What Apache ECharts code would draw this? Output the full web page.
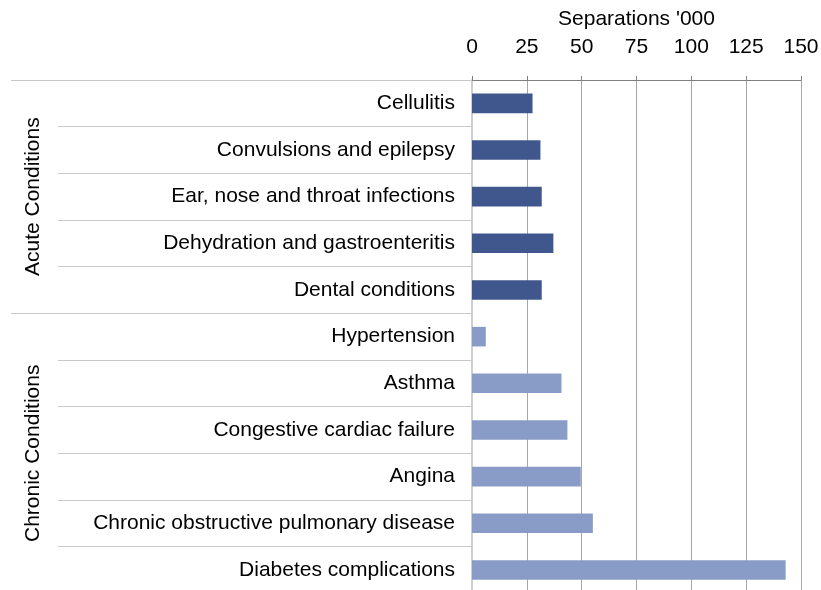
<!DOCTYPE html>
<html>
<head>
<meta charset="utf-8">
<script src="https://cdn.jsdelivr.net/npm/echarts@6/dist/echarts.min.js"></script>
<style>
  html, body { margin: 0; padding: 0; background: #fff; }
  #chart { width: 821px; height: 590px; }
</style>
</head>
<body>
<div id="chart"></div>
<script>
var categories = ['Cellulitis', 'Convulsions and epilepsy', 'Ear, nose and throat infections',
  'Dehydration and gastroenteritis', 'Dental conditions', 'Hypertension', 'Asthma',
  'Congestive cardiac failure', 'Angina', 'Chronic obstructive pulmonary disease',
  'Diabetes complications'];
var separations = [27.6, 31.2, 31.8, 37.1, 31.8, 6.3, 40.8, 43.5, 49.6, 55.1, 143];
var groups = ['Acute Conditions', 'Chronic Conditions'];
var groupSizes = [5, 6];
var groupColors = ['#40578E', '#889CC7'];
var xTicks = [0, 150, 25];

var font = 'Liberation Sans, Arial, sans-serif';
var fs = 21;

var barData = [];
var idx = 0;
groupSizes.forEach(function (n, g) {
  for (var i = 0; i < n; i++) {
    barData.push({ value: separations[idx], itemStyle: { color: groupColors[g] } });
    idx++;
  }
});

var gridTop = 80, gridBottom = -3.3, chartH = 590;
var chart = echarts.init(document.getElementById('chart'));
chart.setOption({
  animation: false,
  grid: { left: 472, right: 20, top: gridTop, bottom: gridBottom, outerBoundsMode: 'none' },
  xAxis: {
    type: 'value',
    position: 'top',
    min: xTicks[0], max: xTicks[1], interval: xTicks[2],
    name: "Separations '000",
    nameLocation: 'middle',
    nameGap: 50,
    nameTextStyle: { fontFamily: font, fontSize: fs, color: '#000' },
    axisLine: { show: true, lineStyle: { color: '#7f7f7f', width: 1 } },
    axisTick: { show: true, inside: false, length: 4, lineStyle: { color: '#7f7f7f' } },
    axisLabel: { margin: 22, fontFamily: font, fontSize: fs, color: '#000' },
    splitLine: { show: true, lineStyle: { color: '#a6a6a6', width: 1 } }
  },
  yAxis: {
    type: 'category',
    inverse: true,
    data: categories,
    axisLine: { show: true, lineStyle: { color: '#cfcfcf', width: 2 } },
    axisTick: { show: true, length: 414, lineStyle: { color: '#c8c8c8', width: 1 } },
    axisLabel: { margin: 17, fontFamily: font, fontSize: fs, color: '#000' },
    splitLine: { show: false }
  },
  series: [{
    type: 'bar',
    barWidth: '42%',
    data: barData
  }]
});

// group separators and rotated group labels
var band = (chartH - gridTop - gridBottom) / categories.length;
var axisX = 472;
var elements = [];
var start = 0;
groupSizes.forEach(function (n, g) {
  var yTop = gridTop + start * band;
  elements.push({
    type: 'line',
    shape: { x1: 11, y1: Math.round(yTop) + 0.5, x2: axisX, y2: Math.round(yTop) + 0.5 },
    style: { stroke: '#c8c8c8', lineWidth: 1 },
    z: 10
  });
  elements.push({
    type: 'text',
    x: 33,
    y: yTop + n * band / 2,
    rotation: Math.PI / 2,
    style: {
      text: groups[g], fontFamily: font, fontSize: fs, fill: '#000',
      align: 'center', verticalAlign: 'middle'
    },
    z: 10
  });
  start += n;
});
chart.setOption({ graphic: { elements: elements } });
</script>
</body>
</html>
